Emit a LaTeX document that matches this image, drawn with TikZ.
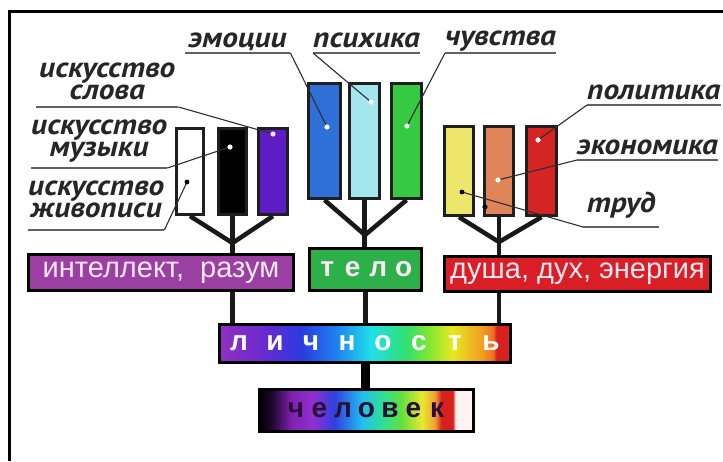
\documentclass[tikz,border=0pt]{standalone}
\usepackage{fontspec}
\setmainfont{Liberation Sans}
\newfontfamily\lblfont{PT Sans}[FakeStretch=1.1]
\usetikzlibrary{calc}

\definecolor{cPurBar}{HTML}{5E1CC4}
\definecolor{cBlue}{HTML}{2F6FD8}
\definecolor{cCyan}{HTML}{A4E6EE}
\definecolor{cGreen}{HTML}{36C942}
\definecolor{cYellow}{HTML}{EEE66A}
\definecolor{cSalmon}{HTML}{E0845A}
\definecolor{cRed}{HTML}{D42424}
\definecolor{cIntel}{HTML}{9B3FA3}
\definecolor{cBody}{HTML}{2DB04A}
\definecolor{cSoul}{HTML}{D91E26}
\definecolor{cBoxText}{HTML}{F8E8F4}
\definecolor{cManText}{HTML}{2A0E38}

% rainbow for "личность"
\definecolor{l0}{HTML}{9030C0}
\definecolor{l1}{HTML}{6A2AD0}
\definecolor{l2}{HTML}{2A3AE0}
\definecolor{l3}{HTML}{1E80F0}
\definecolor{l4}{HTML}{20E0E8}
\definecolor{l5}{HTML}{30E070}
\definecolor{l6}{HTML}{80E830}
\definecolor{l7}{HTML}{E8E820}
\definecolor{l8}{HTML}{F0A020}
\definecolor{l9}{HTML}{F07020}
\definecolor{l10}{HTML}{D82020}
\pgfdeclarehorizontalshading{lichshade}{100bp}{%
color(0bp)=(l0); color(25bp)=(l0); color(32.5bp)=(l1); color(39bp)=(l2);
color(45bp)=(l3); color(51bp)=(l4); color(57bp)=(l5); color(61bp)=(l6);
color(65bp)=(l7); color(70bp)=(l8); color(72bp)=(l9); color(72.6bp)=(l10);
color(75bp)=(l10); color(100bp)=(l10)}

% rainbow for "человек"
\definecolor{m0}{HTML}{000000}
\definecolor{m1}{HTML}{200830}
\definecolor{m2}{HTML}{8020B0}
\definecolor{m3}{HTML}{9030D0}
\definecolor{m4}{HTML}{3040E0}
\definecolor{m5}{HTML}{20C0F0}
\definecolor{m6}{HTML}{30E090}
\definecolor{m7}{HTML}{60E040}
\definecolor{m8}{HTML}{E8E830}
\definecolor{m9}{HTML}{F0A030}
\definecolor{m10}{HTML}{D82020}
\definecolor{m11}{HTML}{FFF2F2}
\pgfdeclarehorizontalshading{manshade}{100bp}{%
color(0bp)=(m0); color(25bp)=(m0); color(28bp)=(m1); color(32.5bp)=(m2);
color(37.5bp)=(m3); color(42.5bp)=(m4); color(49bp)=(m5); color(54bp)=(m6);
color(58bp)=(m7); color(63bp)=(m8); color(66bp)=(m9); color(67.5bp)=(m10);
color(70.2bp)=(m10); color(70.8bp)=(m11); color(75bp)=(m11); color(100bp)=(m11)}

\newcommand\Lsp[1]{\makebox[36pt]{#1}}
\newcommand\Tsp[1]{\makebox[25.5pt]{#1}}
\newcommand\Msp[1]{\makebox[23.5pt]{#1}}

\tikzset{
  barbox/.style={draw=black!88, line width=2.6pt, inner sep=0pt},
  catbox/.style={draw=black, line width=3pt, inner sep=0pt, text=cBoxText,
                 font=\fontsize{29}{29}\selectfont},
  trunk/.style={line width=4.5pt, black!90},
  lead/.style={line width=1.1pt, black!82},
  uline/.style={line width=2pt, black!62},
  lbl/.style={font=\lblfont\bfseries\itshape\fontsize{28.5}{22}\selectfont,
              text=black!85, inner sep=0pt, anchor=south west, align=center},
  dotw/.style={fill=white},
  dotk/.style={fill=black},
}

\begin{document}
\begin{tikzpicture}[x=1pt,y=-1pt]
\useasboundingbox (0,0) rectangle (723,461);
\fill[white] (0,0) rectangle (723,461);

% frame
\coordinate (fTL) at (9.5,11.5);
\coordinate (fTR) at (723,11.5);
\coordinate (fBL) at (9.5,461);
\draw[line width=3pt] (fTR) -- (fTL) -- (fBL);

% bars
\node[barbox, fill=white,   minimum width=27.5pt, minimum height=86.5pt] (bW) at (190,171.5) {};
\node[barbox, fill=black,   minimum width=28.5pt, minimum height=86.5pt] (bK) at (232.5,171.5) {};
\node[barbox, fill=cPurBar, minimum width=29.5pt, minimum height=86.5pt] (bP) at (273,171.5) {};
\node[barbox, fill=cBlue,   minimum width=32.5pt, minimum height=115.5pt] (bB) at (324.5,141) {};
\node[barbox, fill=cCyan,   minimum width=30.5pt, minimum height=115.5pt] (bC) at (364.5,141) {};
\node[barbox, fill=cGreen,  minimum width=30.5pt, minimum height=115.5pt] (bG) at (406.5,141) {};
\node[barbox, fill=cYellow, minimum width=29.5pt, minimum height=89.5pt] (bY) at (459,171) {};
\node[barbox, fill=cSalmon, minimum width=29.5pt, minimum height=89.5pt] (bO) at (499,171) {};
\node[barbox, fill=cRed,    minimum width=30.5pt, minimum height=89.5pt] (bR) at (541.5,171) {};

% tree junctions
\coordinate (j1) at (232.5,243);
\coordinate (j2) at (365,235);
\coordinate (j3) at (499,242);

% box positions (named coordinates used by connectors)
\coordinate (iC) at (161,272.5);
\coordinate (tC) at (365.5,269.5);
\coordinate (dC0) at (577.5,274);
\coordinate (lC) at (365,343.5);
\coordinate (cC) at (366.5,410.5);

% connectors (drawn first, boxes on top)
\draw[trunk] (bW.south) -- (j1) -- (bP.south);
\draw[trunk] (bK.south) -- (bK.south |- iC);
\draw[trunk] (bB.south) -- (j2) -- (bG.south);
\draw[trunk] (bC.south) -- (bC.south |- tC);
\draw[trunk] (bY.south) -- (j3) -- (bR.south);
\draw[trunk] (bO.south) -- (bO.south |- dC0);
\draw[trunk] (bK |- iC) -- (bK |- lC);
\draw[trunk] (tC) -- (tC |- lC);
\draw[trunk] (bO |- dC0) -- (bO |- lC);
\draw[line width=9pt] (lC) -- (lC |- cC);

% category boxes
\node[catbox, fill=cIntel, minimum width=265pt, minimum height=36pt] (iBox) at (iC)
  {интеллект,\ \ разум};
\node[catbox, fill=cBody, minimum width=112pt, minimum height=42pt,
      font=\bfseries\fontsize{28}{28}\selectfont] (tBox) at (tC)
  {\Tsp{т}\Tsp{е}\Tsp{л}\Tsp{о}};
\node[catbox, fill=cSoul, minimum width=266pt, minimum height=35pt] (dBox) at (dC0)
  {душа, дух, энергия};
\node[catbox, shading=lichshade, minimum width=291pt, minimum height=38pt,
      font=\bfseries\fontsize{28}{28}\selectfont, text=white] (lBox) at (lC)
  {\Lsp{л}\Lsp{и}\Lsp{ч}\Lsp{н}\Lsp{о}\Lsp{с}\Lsp{т}\Lsp{ь}};
\node[catbox, shading=manshade, minimum width=214pt, minimum height=42pt,
      font=\bfseries\fontsize{28}{28}\selectfont, text=cManText] (cBox) at (cC)
  {\Msp{ч}\Msp{е}\Msp{л}\Msp{о}\Msp{в}\Msp{е}\Msp{к}};

% labels (south west = left end of underline)
\node[lbl, minimum width=105pt, text depth=5pt]  (lEmo) at (185,53)  {эмоции};
\node[lbl, minimum width=105pt, text depth=5pt]  (lPsy) at (313,53)  {психика};
\node[lbl, minimum width=108pt, text depth=7pt]  (lChu) at (445,53)  {чувства};
\node[lbl, minimum width=142pt, text depth=7pt]  (lSlo) at (36,107)  {искусство\\слова};
\node[lbl, minimum width=134pt, text depth=11pt] (lMuz) at (31,168)  {искусство\\музыки};
\node[lbl, minimum width=135pt, text depth=12pt] (lZhi) at (28,230)  {искусство\\живописи};
\node[lbl, minimum width=127pt, text depth=5pt]  (lPol) at (587,105) {политика};
\node[lbl, minimum width=135pt, text depth=5pt]  (lEko) at (577,160) {экономика};
\node[lbl, minimum width=76pt,  text depth=14pt] (lTru) at (583,227) {труд};

\foreach \n in {lEmo,lPsy,lChu,lSlo,lMuz,lZhi,lPol,lEko,lTru}
  \draw[uline] (\n.south west) -- (\n.south east);

% dots
\coordinate (dB) at (327,127);
\coordinate (dC) at (371,102);
\coordinate (dG) at (407,126);
\coordinate (dP) at (273,134);
\coordinate (dK) at (230,147);
\coordinate (dW) at (187,182);
\coordinate (dR) at (538,140);
\coordinate (dO) at (498,180);
\coordinate (dY) at (462,192);
\coordinate (dY2) at (485,207);

% leaders
\draw[lead] (lEmo.south east) -- (dB);
\draw[lead] (lPsy.south west) -- (dC);
\draw[lead] (lChu.south west) -- (dG);
\draw[lead] (lSlo.south east) -- (dP);
\draw[lead] (lMuz.south east) -- (dK);
\draw[lead] (lZhi.south east) -- (dW);
\draw[lead] (lPol.south west) -- (dR);
\draw[lead] (lEko.south west) -- (dO);
\draw[lead] (lTru.south west) -- (dY);

\foreach \d in {dB,dC,dG,dK,dR,dO}
  \fill[dotw] (\d) circle (2.6);
\fill[white!85!magenta] (dP) circle (2.6);
\fill[dotk] (dW) circle (2.4);
\fill[dotk] (dY) circle (2.4);
\fill[dotk] (dY2) circle (2.6);
\end{tikzpicture}
\end{document}
